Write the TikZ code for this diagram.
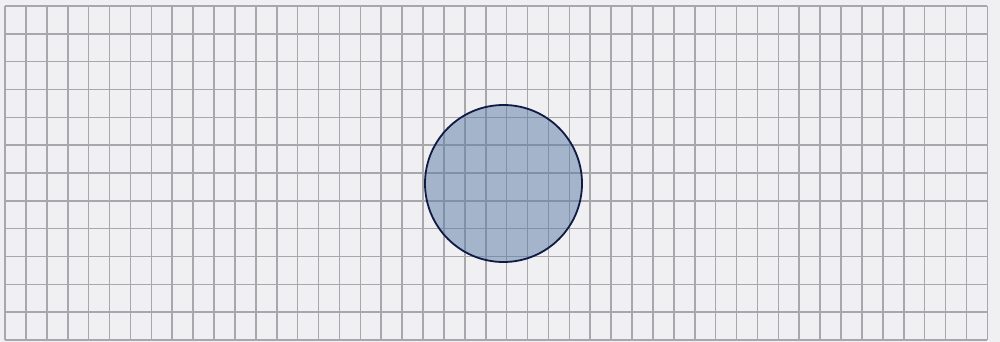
\documentclass[tikz,border=0pt]{standalone}
\begin{document}
\begin{tikzpicture}[x=1pt,y=-1pt,
  gridline/.style={draw=gridgray,line width=1.6pt},
  disc/.style={circle,minimum size=157pt,inner sep=0pt,fill=discblue,fill opacity=0.5,draw=discedge,draw opacity=1,line width=1.8pt}]
\definecolor{bg}{HTML}{F0F0F2}
\definecolor{gridgray}{HTML}{A8A8AC}
\definecolor{discblue}{HTML}{5A7AA6}
\definecolor{discedge}{HTML}{101A44}
\fill[bg] (0,0) rectangle (1000,342);
\useasboundingbox (0,0) rectangle (1000,342);
\foreach \i in {0,...,47} {
  \draw[gridline] ({5+\i*20.9},6) -- ({5+\i*20.9},340);
}
\foreach \j in {0,...,12} {
  \draw[gridline] (5,{6+\j*27.83}) -- (987.3,{6+\j*27.83});
}
\node[disc] (c) at (503.5,183.5) {};
\end{tikzpicture}
\end{document}
